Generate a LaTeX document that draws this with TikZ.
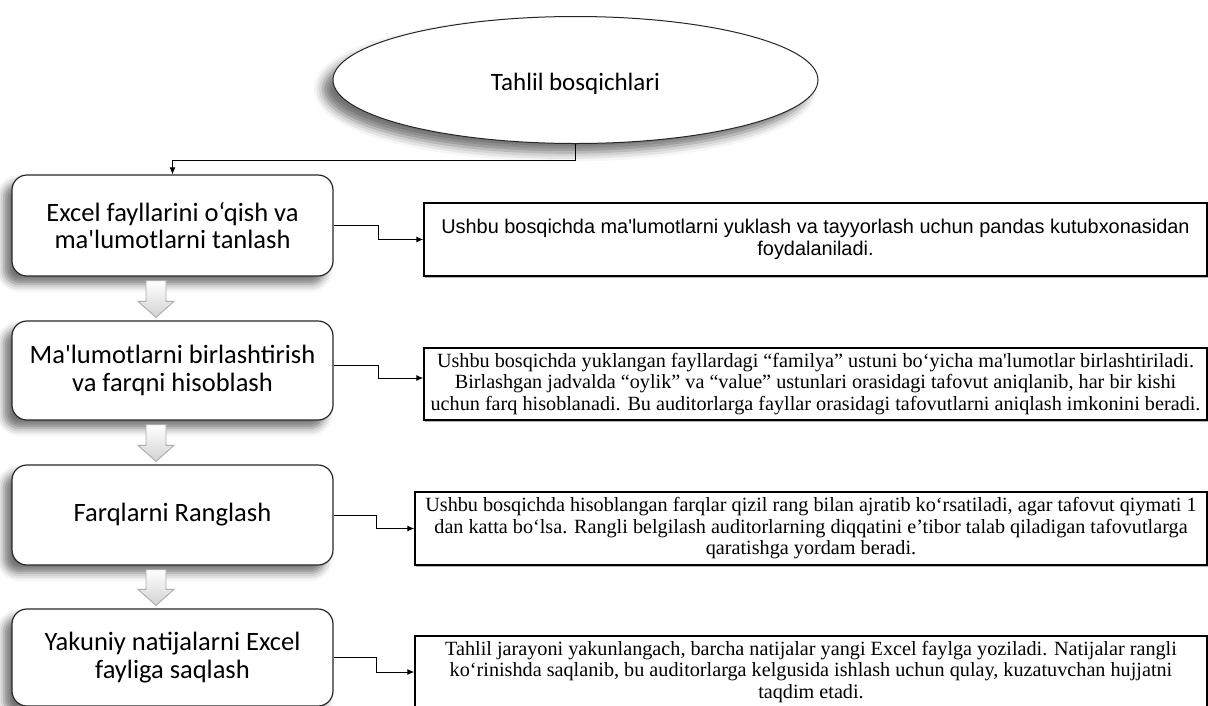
\documentclass[tikz,border=0pt]{standalone}
\usepackage{fontspec}
\newfontfamily\calfont{Carlito}
\newfontfamily\arialfont{Liberation Sans}
\newfontfamily\timesfont{Liberation Serif}
\usetikzlibrary{shadows,shadows.blur,arrows.meta,calc,shapes.geometric}
\begin{document}
\begin{tikzpicture}[x=1pt,y=-1pt,
  stage/.style={draw=black!85, line width=1.2pt, rounded corners=15pt, fill=white,
    minimum width=321pt, inner sep=0pt, align=center,
    font=\calfont\fontsize{26.5}{27.5}\selectfont,
    blur shadow={shadow xshift=-8pt, shadow yshift=-8pt, shadow blur radius=8pt, shadow opacity=55}},
  desc/.style={draw=black, line width=1.4pt, fill=white, inner sep=0pt, align=center,
    drop shadow={shadow xshift=1pt, shadow yshift=-1.5pt, fill=gray!60, opacity=1}},
  desca/.style={desc, font=\arialfont\fontsize{19.9}{21.5}\selectfont},
  descb/.style={desc, font=\timesfont\fontsize{20.2}{21.5}\selectfont},
  link/.style={draw=black, line width=1pt, -{Latex[length=7pt,width=6pt]}},
  hollow/.style={draw=gray!65, line width=0.9pt, top color=white, bottom color=gray!35, line join=miter}
]
\useasboundingbox (0,0) rectangle (1208,705);

% title ellipse
\node[ellipse, draw=black!85, line width=1pt, fill=white, minimum width=485pt, minimum height=127pt,
  inner sep=0pt, font=\calfont\fontsize{25}{28}\selectfont,
  blur shadow={shadow xshift=-10pt, shadow yshift=-9pt, shadow blur radius=9pt, shadow opacity=55}]
  (ell) at (575.5,80) {\raisebox{-10pt}[0pt][0pt]{Tahlil bosqichlari}};

% stages
\node[stage, minimum height=101pt] (b1) at (172.5,225.5) {Excel fayllarini o‘qish va\\ma'lumotlarni tanlash};
\node[stage, minimum height=99pt] (b2) at (172.5,370.5) {Ma'lumotlarni birlashtirish\\va farqni hisoblash};
\node[stage, minimum height=100pt] (b3) at (172.5,515) {Farqlarni Ranglash};
\node[stage, minimum height=97pt] (b4) at (172.5,657.5) {Yakuniy natijalarni Excel\\fayliga saqlash};

% descriptions
\node[desca, minimum width=783pt, minimum height=73pt] (dA) at (815.5,239.5)
  {Ushbu bosqichda ma'lumotlarni yuklash va tayyorlash uchun pandas kutubxonasidan\\foydalaniladi.};
\node[descb, minimum width=783pt, minimum height=72pt] (dB) at (815.5,384)
  {Ushbu bosqichda yuklangan fayllardagi “familya” ustuni bo‘yicha ma'lumotlar birlashtiriladi.\\Birlashgan jadvalda “oylik” va “value” ustunlari orasidagi tafovut aniqlanib, har bir kishi\\uchun farq hisoblanadi. Bu auditorlarga fayllar orasidagi tafovutlarni aniqlash imkonini beradi.};
\node[descb, minimum width=792pt, minimum height=73pt] (dC) at (811,528.5)
  {Ushbu bosqichda hisoblangan farqlar qizil rang bilan ajratib ko‘rsatiladi, agar tafovut qiymati 1\\dan katta bo‘lsa. Rangli belgilash auditorlarning diqqatini e’tibor talab qiladigan tafovutlarga\\qaratishga yordam beradi.};
\node[descb, minimum width=792pt, minimum height=72pt] (dD) at (811,672)
  {Tahlil jarayoni yakunlangach, barcha natijalar yangi Excel faylga yoziladi. Natijalar rangli\\ko‘rinishda saqlanib, bu auditorlarga kelgusida ishlash uchun qulay, kuzatuvchan hujjatni\\taqdim etadi.};

% hollow block arrows between stages
\foreach \u/\l in {b1/b2,b2/b3,b3/b4}{
  \draw[hollow] let \p1=(\u.south), \p2=(\l.north) in
    (\x1-26.5pt,\y1-4pt) -- (\x1-6.5pt,\y1-4pt) -- (\x1-6.5pt,\y2+19pt) -- (\x1+1.5pt,\y2+19pt)
    -- (\x1-16.5pt,\y2+3pt) -- (\x1-34.5pt,\y2+19pt) -- (\x1-26.5pt,\y2+19pt) -- cycle;
}

% connectors
\draw[link] (ell.south) -- ++(0,16) -| (b1.north);
\draw[link] (b1.east) -- ++(45,0) |- (dA.west);
\draw[link] ([yshift=5pt]b2.east) -- ++(45,0) |- ([yshift=6pt]dB.west);
\draw[link] (b3.east) -- ++(43,0) |- (dC.west);
\draw[link] (b4.east) -- ++(43,0) |- (dD.west);
\end{tikzpicture}
\end{document}
